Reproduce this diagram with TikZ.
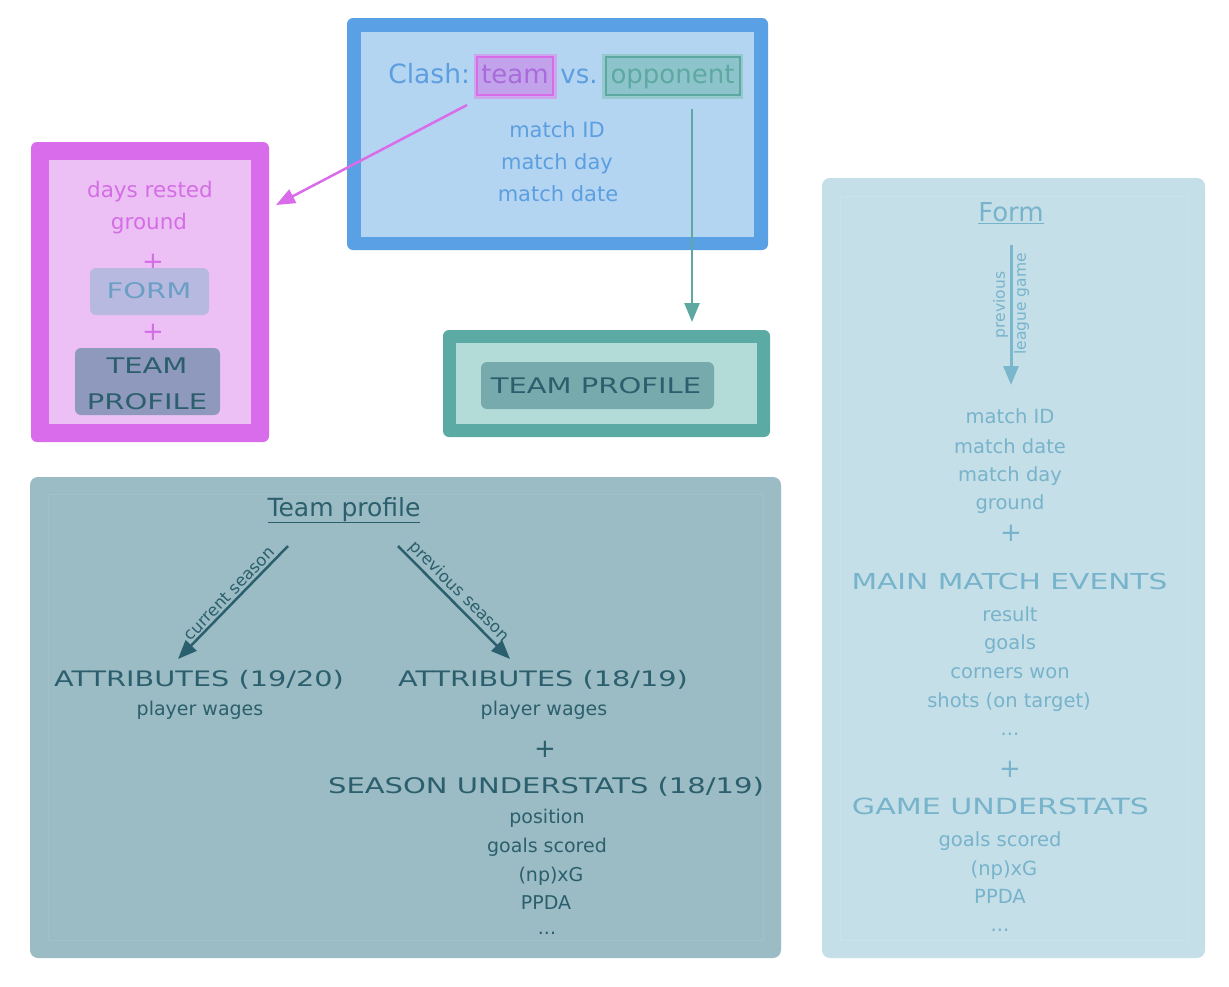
\documentclass[tikz,border=0pt]{standalone}
\usepackage{fontspec}
\setmainfont{DejaVu Sans}
\newfontfamily\capsf[FakeStretch=1.35]{DejaVu Sans}
\usetikzlibrary{arrows.meta}
\definecolor{blueOuter}{HTML}{5AA0E4}
\definecolor{blueInner}{HTML}{B3D5F1}
\definecolor{blueText}{HTML}{5C9EE0}
\definecolor{teamFill}{HTML}{C3A2EC}
\definecolor{teamBorder}{HTML}{D96CE9}
\definecolor{teamHalo}{HTML}{CBA8EE}
\definecolor{teamText}{HTML}{A96BD9}
\definecolor{oppFill}{HTML}{8DC4CC}
\definecolor{oppBorder}{HTML}{5DA9A2}
\definecolor{oppHalo}{HTML}{96C9CE}
\definecolor{pinkOuter}{HTML}{D86CEA}
\definecolor{pinkInner}{HTML}{ECC0F5}
\definecolor{pinkText}{HTML}{D46EE4}
\definecolor{formFill}{HTML}{B8B9E1}
\definecolor{formText}{HTML}{6B9FC4}
\definecolor{tpFill}{HTML}{8F99BD}
\definecolor{darkText}{HTML}{2C5F6D}
\definecolor{tealOuter}{HTML}{5BAAA4}
\definecolor{tealInner}{HTML}{B3DBD8}
\definecolor{tealBox}{HTML}{77AAAC}
\definecolor{tpBg}{HTML}{9BBCC4}
\definecolor{tpLine}{HTML}{A1C0C7}
\definecolor{formBg}{HTML}{C5DFE8}
\definecolor{formLine}{HTML}{CAE2EA}
\definecolor{rightText}{HTML}{77B3CB}
\definecolor{rightArrow}{HTML}{7AB6CC}
\newcommand{\myfs}[1]{\fontsize{#1}{#1}\selectfont}
\begin{document}
\begin{tikzpicture}[x=1pt,y=-1pt,
  every node/.style={inner sep=0pt, outer sep=0pt},
  txt/.style={anchor=base, font=\myfs{#1}},
  caps/.style={anchor=base, font=\capsf\myfs{#1}},
  plus/.style={font=\myfs{26}},
  frame/.style={rounded corners=6pt},
  chip/.style={rounded corners=6pt},
  arr/.style={line width=2.5pt, -{Triangle[length=19pt,width=15pt]}}
]
\fill[white] (0,0) rectangle (1229,986);
\useasboundingbox (0,0) rectangle (1229,986);

% ---------- big frames ----------
\node[frame, fill=blueOuter, minimum width=421pt, minimum height=232pt] (clashbox) at (557.5,134) {};
\node[fill=blueInner, minimum width=393pt, minimum height=205pt] (clashin) at (557.5,134.5) {};
\node[frame, fill=pinkOuter, minimum width=238pt, minimum height=300pt] (pinkbox) at (150,292) {};
\node[fill=pinkInner, minimum width=202pt, minimum height=264pt] (pinkin) at (150,292) {};
\node[frame, fill=tealOuter, minimum width=327pt, minimum height=107pt] (tealbox) at (606.5,383.5) {};
\node[fill=tealInner, minimum width=301pt, minimum height=81pt] (tealin) at (606.5,383.5) {};
\node[fill=tpBg, rounded corners=8pt, minimum width=751pt, minimum height=481pt] (tpbox) at (405.5,717.5) {};
\node[fill=formBg, rounded corners=8pt, minimum width=383pt, minimum height=780pt] (formbox) at (1013.5,568) {};
\draw[tpLine, line width=0.8pt] (48,494) rectangle (763,940);
\draw[formLine, line width=0.8pt] (840,196) rectangle (1187,940);

% ---------- clash box ----------
\node[txt=26.5, anchor=base east, text=blueText] (clash) at (470,83) {Clash:};
\node[draw=teamBorder, line width=2pt, fill=teamFill, minimum width=76pt, minimum height=38pt,
      preaction={draw=teamHalo, line width=7pt, rounded corners=3pt}] (team) at (515,76) {};
\node[txt=26, text=teamText] (teamlbl) at (515,83) {team};
\node[txt=26, text=blueText] (vs) at (579,83) {vs.};
\node[draw=oppBorder, line width=2pt, fill=oppFill, minimum width=134pt, minimum height=38pt,
      preaction={draw=oppHalo, line width=7pt, rounded corners=3pt}] (opp) at (672.5,76) {};
\node[txt=26, text=oppBorder] (opplbl) at (672.5,83) {opponent};
\node[txt=21, text=blueText] (mid) at (557,137) {match ID};
\node[txt=21, text=blueText] (mday) at (557,169) {match day};
\node[txt=21, text=blueText] (mdate) at (558,201) {match date};

% ---------- pink box ----------
\node[txt=21.5, text=pinkText] (rested) at (150,197) {days rested};
\node[txt=21.5, text=pinkText] (ground1) at (149,229) {ground};
\node[plus, text=pinkText] (plus1) at (153,262) {+};
\node[chip, fill=formFill, minimum width=119pt, minimum height=47pt] (formchip) at (149.5,291.5) {};
\node[caps=21.5, text=formText] (formlbl) at (149,298) {FORM};
\node[plus, text=pinkText] (plus2) at (153,332) {+};
\node[chip, fill=tpFill, minimum width=145pt, minimum height=67pt] (tpchip) at (147.5,381.5) {};
\node[caps=21.5, text=darkText] (tplbl1) at (147,373) {TEAM};
\node[caps=21.5, text=darkText] (tplbl2) at (147,409) {PROFILE};

% ---------- teal box ----------
\node[chip, fill=tealBox, minimum width=233pt, minimum height=47pt] (tpchip2) at (597.5,385.5) {};
\node[caps=21.5, text=darkText] (tplbl3) at (596,393) {TEAM PROFILE};

% ---------- top arrows ----------
\coordinate (teamOut) at (467,105);
\coordinate (pinkIn) at (276,205);
\draw[arr, draw=teamBorder, fill=teamBorder] (teamOut) -- (pinkIn);
\coordinate (oppOut) at (692,109);
\coordinate (tealIn) at (692,322);
\draw[arr, draw=oppBorder, fill=oppBorder] (oppOut) -- (tealIn);

% ---------- team profile panel ----------
\node[txt=25, text=darkText] (tptitle) at (344,516) {\underline{Team profile}};
\coordinate (cs1) at (288,546);
\coordinate (cs2) at (178,659);
\coordinate (ps1) at (398,546);
\coordinate (ps2) at (510,659);
\draw[arr, draw=darkText, fill=darkText] (cs1) -- (cs2);
\draw[arr, draw=darkText, fill=darkText] (ps1) -- (ps2);
\node[font=\myfs{16.5}, text=darkText, rotate=46, anchor=south, inner sep=2pt] (cslbl) at (235,599) {current season};
\node[font=\myfs{16.5}, text=darkText, rotate=-45, anchor=south, inner sep=2pt] (pslbl) at (452,599) {previous season};
\node[caps=21.3, text=darkText] (att1) at (199,686) {ATTRIBUTES (19/20)};
\node[txt=19, text=darkText] (pw1) at (200,715) {player wages};
\node[caps=21.3, text=darkText] (att2) at (543,686) {ATTRIBUTES (18/19)};
\node[txt=19, text=darkText] (pw2) at (544,715) {player wages};
\node[plus, text=darkText] (plus3) at (545,749) {+};
\node[caps=21.5, text=darkText] (sus) at (546,793) {SEASON UNDERSTATS (18/19)};
\node[txt=19, text=darkText] (pos) at (547,823) {position};
\node[txt=19, text=darkText] (gs1) at (547,852) {goals scored};
\node[txt=19, text=darkText] (xg1) at (551,881) {(np)xG};
\node[txt=19, text=darkText] (ppda1) at (546,909) {PPDA};
\node[txt=19, text=darkText] (dots1) at (547,934) {...};

% ---------- form panel ----------
\node[txt=26, text=rightText] (formtitle) at (1011,221) {\underline{Form}};
\coordinate (fa1) at (1011,245);
\coordinate (fa2) at (1011,385);
\draw[arr, line width=3pt, draw=rightArrow, fill=rightArrow] (fa1) -- (fa2);
\node[font=\myfs{15.5}, text=rightText, rotate=90, anchor=south, inner sep=2pt] (prevlbl) at (1010,305) {previous};
\node[font=\myfs{15.5}, text=rightText, rotate=90, anchor=north, inner sep=2pt] (leaguelbl) at (1012,304) {league game};
\node[txt=19.5, text=rightText] (fid) at (1010,423) {match ID};
\node[txt=19.5, text=rightText] (fdate) at (1010,453) {match date};
\node[txt=19.5, text=rightText] (fday) at (1010,481) {match day};
\node[txt=19.5, text=rightText] (fground) at (1010,509) {ground};
\node[plus, text=rightText] (plus4) at (1011,533) {+};
\node[caps=22, text=rightText] (mme) at (1009.5,589) {MAIN MATCH EVENTS};
\node[txt=19.5, text=rightText] (res) at (1010,621) {result};
\node[txt=19.5, text=rightText] (goals) at (1010,649) {goals};
\node[txt=19.5, text=rightText] (corn) at (1010,678) {corners won};
\node[txt=19.5, text=rightText] (shots) at (1009,707) {shots (on target)};
\node[txt=19.5, text=rightText] (dots2) at (1010,735) {...};
\node[plus, text=rightText] (plus5) at (1010,769) {+};
\node[caps=22.3, text=rightText] (gus) at (1000.5,814) {GAME UNDERSTATS};
\node[txt=19.5, text=rightText] (gs2) at (1000,846) {goals scored};
\node[txt=19.5, text=rightText] (xg2) at (1004,875) {(np)xG};
\node[txt=19.5, text=rightText] (ppda2) at (1000,903) {PPDA};
\node[txt=19.5, text=rightText] (dots3) at (1000,931) {...};
\end{tikzpicture}
\end{document}
